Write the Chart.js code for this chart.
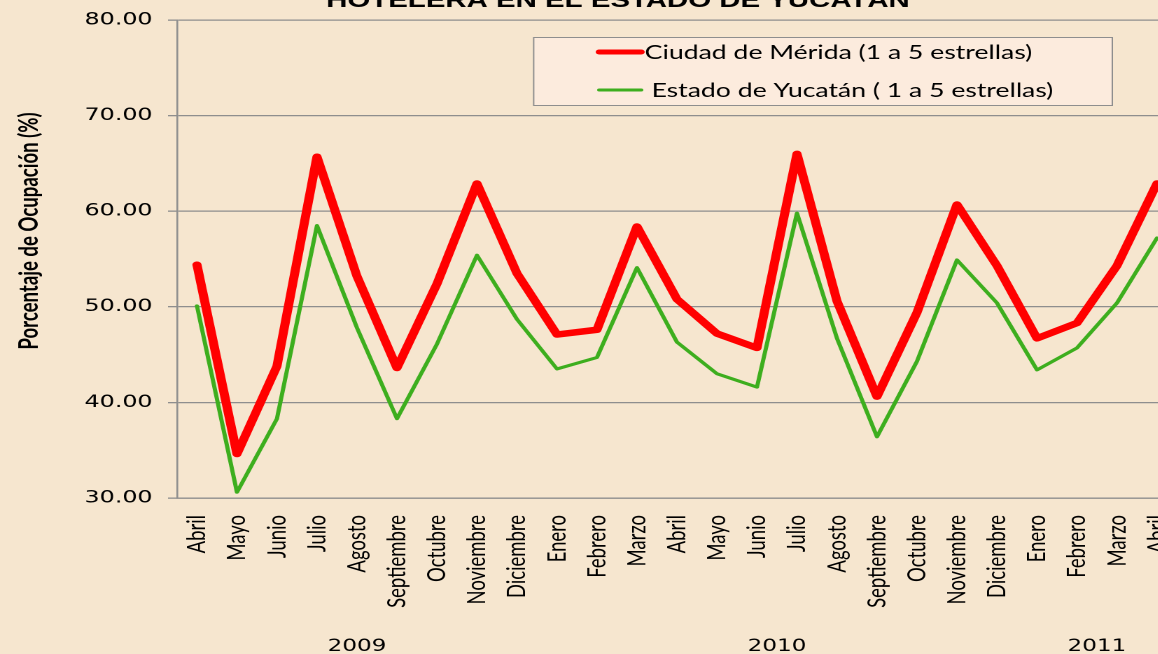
<!DOCTYPE html>
<html>
<head>
<meta charset="utf-8">
<script src="https://cdn.jsdelivr.net/npm/chart.js@4/dist/chart.umd.min.js"></script>
<style>
  html, body { margin:0; padding:0; width:1158px; height:654px; overflow:hidden; background:#F6E6CF; }
  #wrap { position:absolute; left:0; top:0; width:860px; height:654px; transform:scaleX(1.4); transform-origin:0 0; }
</style>
</head>
<body>
<div id="wrap"><canvas id="c" width="860" height="654"></canvas></div>
<script>
const months = ['Abril','Mayo','Junio','Julio','Agosto','Septiembre','Octubre','Noviembre','Diciembre','Enero','Febrero','Marzo','Abril','Mayo','Junio','Julio','Agosto','Septiembre','Octubre','Noviembre','Diciembre','Enero','Febrero','Marzo','Abril'];
const merida  = [54.4,34.6,43.8,65.7,53.2,43.6,52.4,62.9,53.5,47.1,47.6,58.4,50.8,47.2,45.7,66.0,50.6,40.6,49.4,60.7,54.3,46.7,48.3,54.3,62.9];
const yucatan = [50.1,30.6,38.3,58.5,47.8,38.3,46.1,55.4,48.7,43.5,44.7,54.1,46.3,43.0,41.6,59.8,46.7,36.4,44.3,54.9,50.4,43.4,45.7,50.4,57.2];
const seriesNames = ['Ciudad de Mérida (1 a 5 estrellas)', ' Estado de Yucatán ( 1 a 5 estrellas)'];
const years = ['2009','2010','2011'];
const yearCenters = [4, 14.5, 22.5];
const yTicks = [30, 40, 50, 60, 70, 80];
const titleText = 'HOTELERA EN EL ESTADO DE YUCATÁN';
const yTitle = 'Porcentaje de Ocupación (%)';

const W = 860;
const gridColor = '#8E8E8E';

const extras = {
  id: 'extras',
  afterDatasetsDraw(chart) {
    const ctx = chart.ctx;
    const xs = chart.scales.x;
    ctx.save();
    // title (top part cut off by the canvas edge)
    ctx.fillStyle = '#000';
    ctx.font = 'bold 21px "Liberation Sans", Arial, sans-serif';
    ctx.textAlign = 'center';
    ctx.textBaseline = 'alphabetic';
    ctx.fillText(titleText, 441.4, 7);

    // y axis title
    ctx.save();
    ctx.translate(21, 231);
    ctx.rotate(-Math.PI / 2);
    ctx.font = 'bold 18.6px Lato, sans-serif';
    ctx.textAlign = 'center';
    ctx.textBaseline = 'middle';
    ctx.fillText(yTitle, 0, 0);
    ctx.restore();

    // year labels
    ctx.font = '16.5px "DejaVu Sans", Verdana, sans-serif';
    ctx.textAlign = 'center';
    ctx.textBaseline = 'alphabetic';
    years.forEach((y, i) => {
      ctx.fillText(y, xs.getPixelForValue(yearCenters[i]), 651);
    });

    // legend box
    const bx = 380.7, by = 37, bw = 414.3, bh = 69;
    ctx.fillStyle = '#FCEBDD';
    ctx.fillRect(bx, by, bw, bh);
    ctx.strokeStyle = '#8E8E8E';
    ctx.lineWidth = 1;
    ctx.strokeRect(bx + 0.5, by + 0.5, bw - 1, bh - 1);
    const rows = [52, 90];
    chart.data.datasets.forEach((ds, i) => {
      ctx.strokeStyle = ds.borderColor;
      ctx.lineWidth = i === 0 ? 5 : 3;
      ctx.lineCap = 'round';
      ctx.beginPath();
      ctx.moveTo(428, rows[i]);
      ctx.lineTo(458, rows[i]);
      ctx.stroke();
      ctx.fillStyle = '#000';
      ctx.font = '19px Lato, sans-serif';
      ctx.textAlign = 'left';
      ctx.textBaseline = 'middle';
      ctx.fillText(ds.label, 460.5, rows[i] + 1);
    });
    ctx.restore();
  }
};

new Chart(document.getElementById('c'), {
  type: 'line',
  data: {
    labels: months,
    datasets: [
      { label: seriesNames[0], data: merida, borderColor: '#FF0000', borderWidth: 6.5,
        pointRadius: 0, borderJoinStyle: 'round', borderCapStyle: 'round', tension: 0 },
      { label: seriesNames[1], data: yucatan, borderColor: '#3DAE1E', borderWidth: 3,
        pointRadius: 0, borderJoinStyle: 'round', borderCapStyle: 'round', tension: 0 }
    ]
  },
  options: {
    responsive: false,
    animation: false,
    devicePixelRatio: 2,
    layout: { padding: { top: 20, right: W - 840.7, bottom: 0, left: 0 } },
    plugins: { legend: { display: false }, title: { display: false }, tooltip: { enabled: false } },
    scales: {
      x: {
        type: 'category',
        offset: true,
        grid: { display: false, drawTicks: false },
        border: { display: true, color: gridColor, width: 1.3 },
        ticks: {
          autoSkip: false, maxRotation: 90, minRotation: 90,
          padding: 17,
          color: '#000',
          font: { family: 'Lato, sans-serif', size: 18.5 }
        },
        afterFit(s) { s.height = 156; s.paddingLeft = 0; s.paddingRight = 0; }
      },
      y: {
        min: 30, max: 80,
        afterBuildTicks(s) { s.ticks = yTicks.map(v => ({ value: v })); },
        grid: { color: gridColor, lineWidth: 1.3, tickLength: 6.4, drawTicks: true },
        border: { display: true, color: gridColor, width: 1.3 },
        ticks: {
          padding: 11,
          color: '#000',
          font: { family: '"DejaVu Sans", Verdana, sans-serif', size: 17 },
          callback: v => Number(v).toFixed(2)
        },
        afterFit(s) { s.width = 126.4; s.paddingTop = 0; s.paddingBottom = 0; }
      }
    }
  },
  plugins: [extras]
});
</script>
</body>
</html>
